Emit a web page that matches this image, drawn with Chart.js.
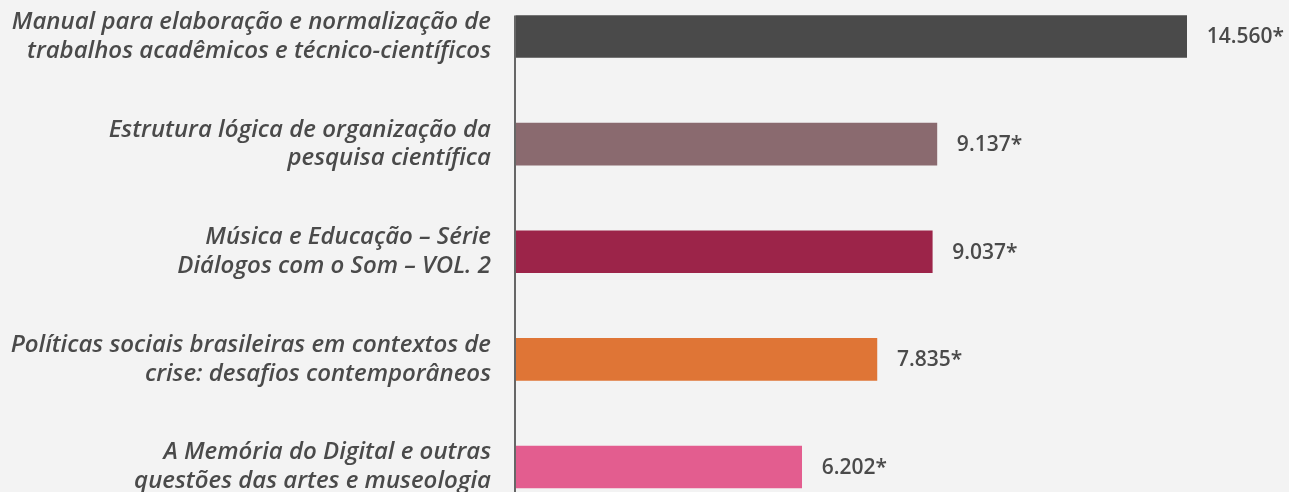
<!DOCTYPE html>
<html>
<head>
<meta charset="utf-8">
<script src="https://cdn.jsdelivr.net/npm/chart.js@4/dist/chart.umd.min.js"></script>
<style>
  html, body { margin: 0; padding: 0; background: #f3f3f3; }
  #wrap { width: 1289px; height: 492px; position: relative; }
</style>
</head>
<body>
<div id="wrap"><canvas id="c"></canvas></div>
<script>
const categories = [
  ["Manual para elaboração e normalização de", "trabalhos acadêmicos e técnico-científicos"],
  ["Estrutura lógica de organização da", "pesquisa científica"],
  ["Música e Educação – Série", "Diálogos com o Som – VOL. 2"],
  ["Políticas sociais brasileiras em contextos de", "crise: desafios contemporâneos"],
  ["A Memória do Digital e outras", "questões das artes e museologia"]
];
const values = [14560, 9137, 9037, 7835, 6202];
const valueLabels = ["14.560*", "9.137*", "9.037*", "7.835*", "6.202*"];
const barColors = ["#4a4a4a", "#8a6a6f", "#9c2449", "#df7536", "#e35d8f"];

const textColor = "#4a4a4a";

const axisLinePlugin = {
  id: 'axisLine',
  afterDatasetsDraw(chart) {
    const ctx = chart.ctx;
    const meta = chart.getDatasetMeta(0);
    const first = meta.data[0];
    const top = first.y - first.height / 2;
    const x = chart.chartArea.left - 1;
    ctx.save();
    ctx.strokeStyle = "#666666";
    ctx.lineWidth = 2;
    ctx.beginPath();
    ctx.moveTo(x, top);
    ctx.lineTo(x, chart.height);
    ctx.stroke();
    ctx.restore();
  }
};

const valueLabelPlugin = {
  id: 'valueLabels',
  afterDatasetsDraw(chart) {
    const ctx = chart.ctx;
    const meta = chart.getDatasetMeta(0);
    ctx.save();
    ctx.font = "600 21px 'Open Sans'";
    ctx.fillStyle = textColor;
    ctx.textAlign = "left";
    ctx.textBaseline = "middle";
    meta.data.forEach((bar, i) => {
      ctx.fillText(valueLabels[i], bar.x + 20, bar.y + 1);
    });
    ctx.restore();
  }
};

function draw() {
  new Chart(document.getElementById('c'), {
    type: 'bar',
    data: {
      labels: categories,
      datasets: [{
        data: values,
        backgroundColor: barColors,
        borderWidth: 0,
        barThickness: 42,
        clip: false
      }]
    },
    options: {
      indexAxis: 'y',
      responsive: true,
      maintainAspectRatio: false,
      animation: false,
      layout: { padding: { top: 36.5, bottom: 25, right: 36, left: 0 } },
      plugins: {
        legend: { display: false },
        tooltip: { enabled: false }
      },
      scales: {
        x: {
          display: false,
          min: 0,
          max: 16000
        },
        y: {
          offset: false,
          grid: { display: false, drawTicks: false },
          border: { display: false },
          ticks: {
            padding: 25,
            color: textColor,
            font: { family: "'Open Sans'", size: 24, style: 'italic', weight: '600', lineHeight: 1.2 }
          },
          afterFit(scale) {
            scale.width = 516;
            scale.paddingTop = 0;
            scale.paddingBottom = 0;
          }
        }
      }
    },
    plugins: [axisLinePlugin, valueLabelPlugin]
  });
}

Promise.all([
  document.fonts.load("italic 600 24px 'Open Sans'"),
  document.fonts.load("600 21px 'Open Sans'")
]).then(draw, draw);
</script>
</body>
</html>
